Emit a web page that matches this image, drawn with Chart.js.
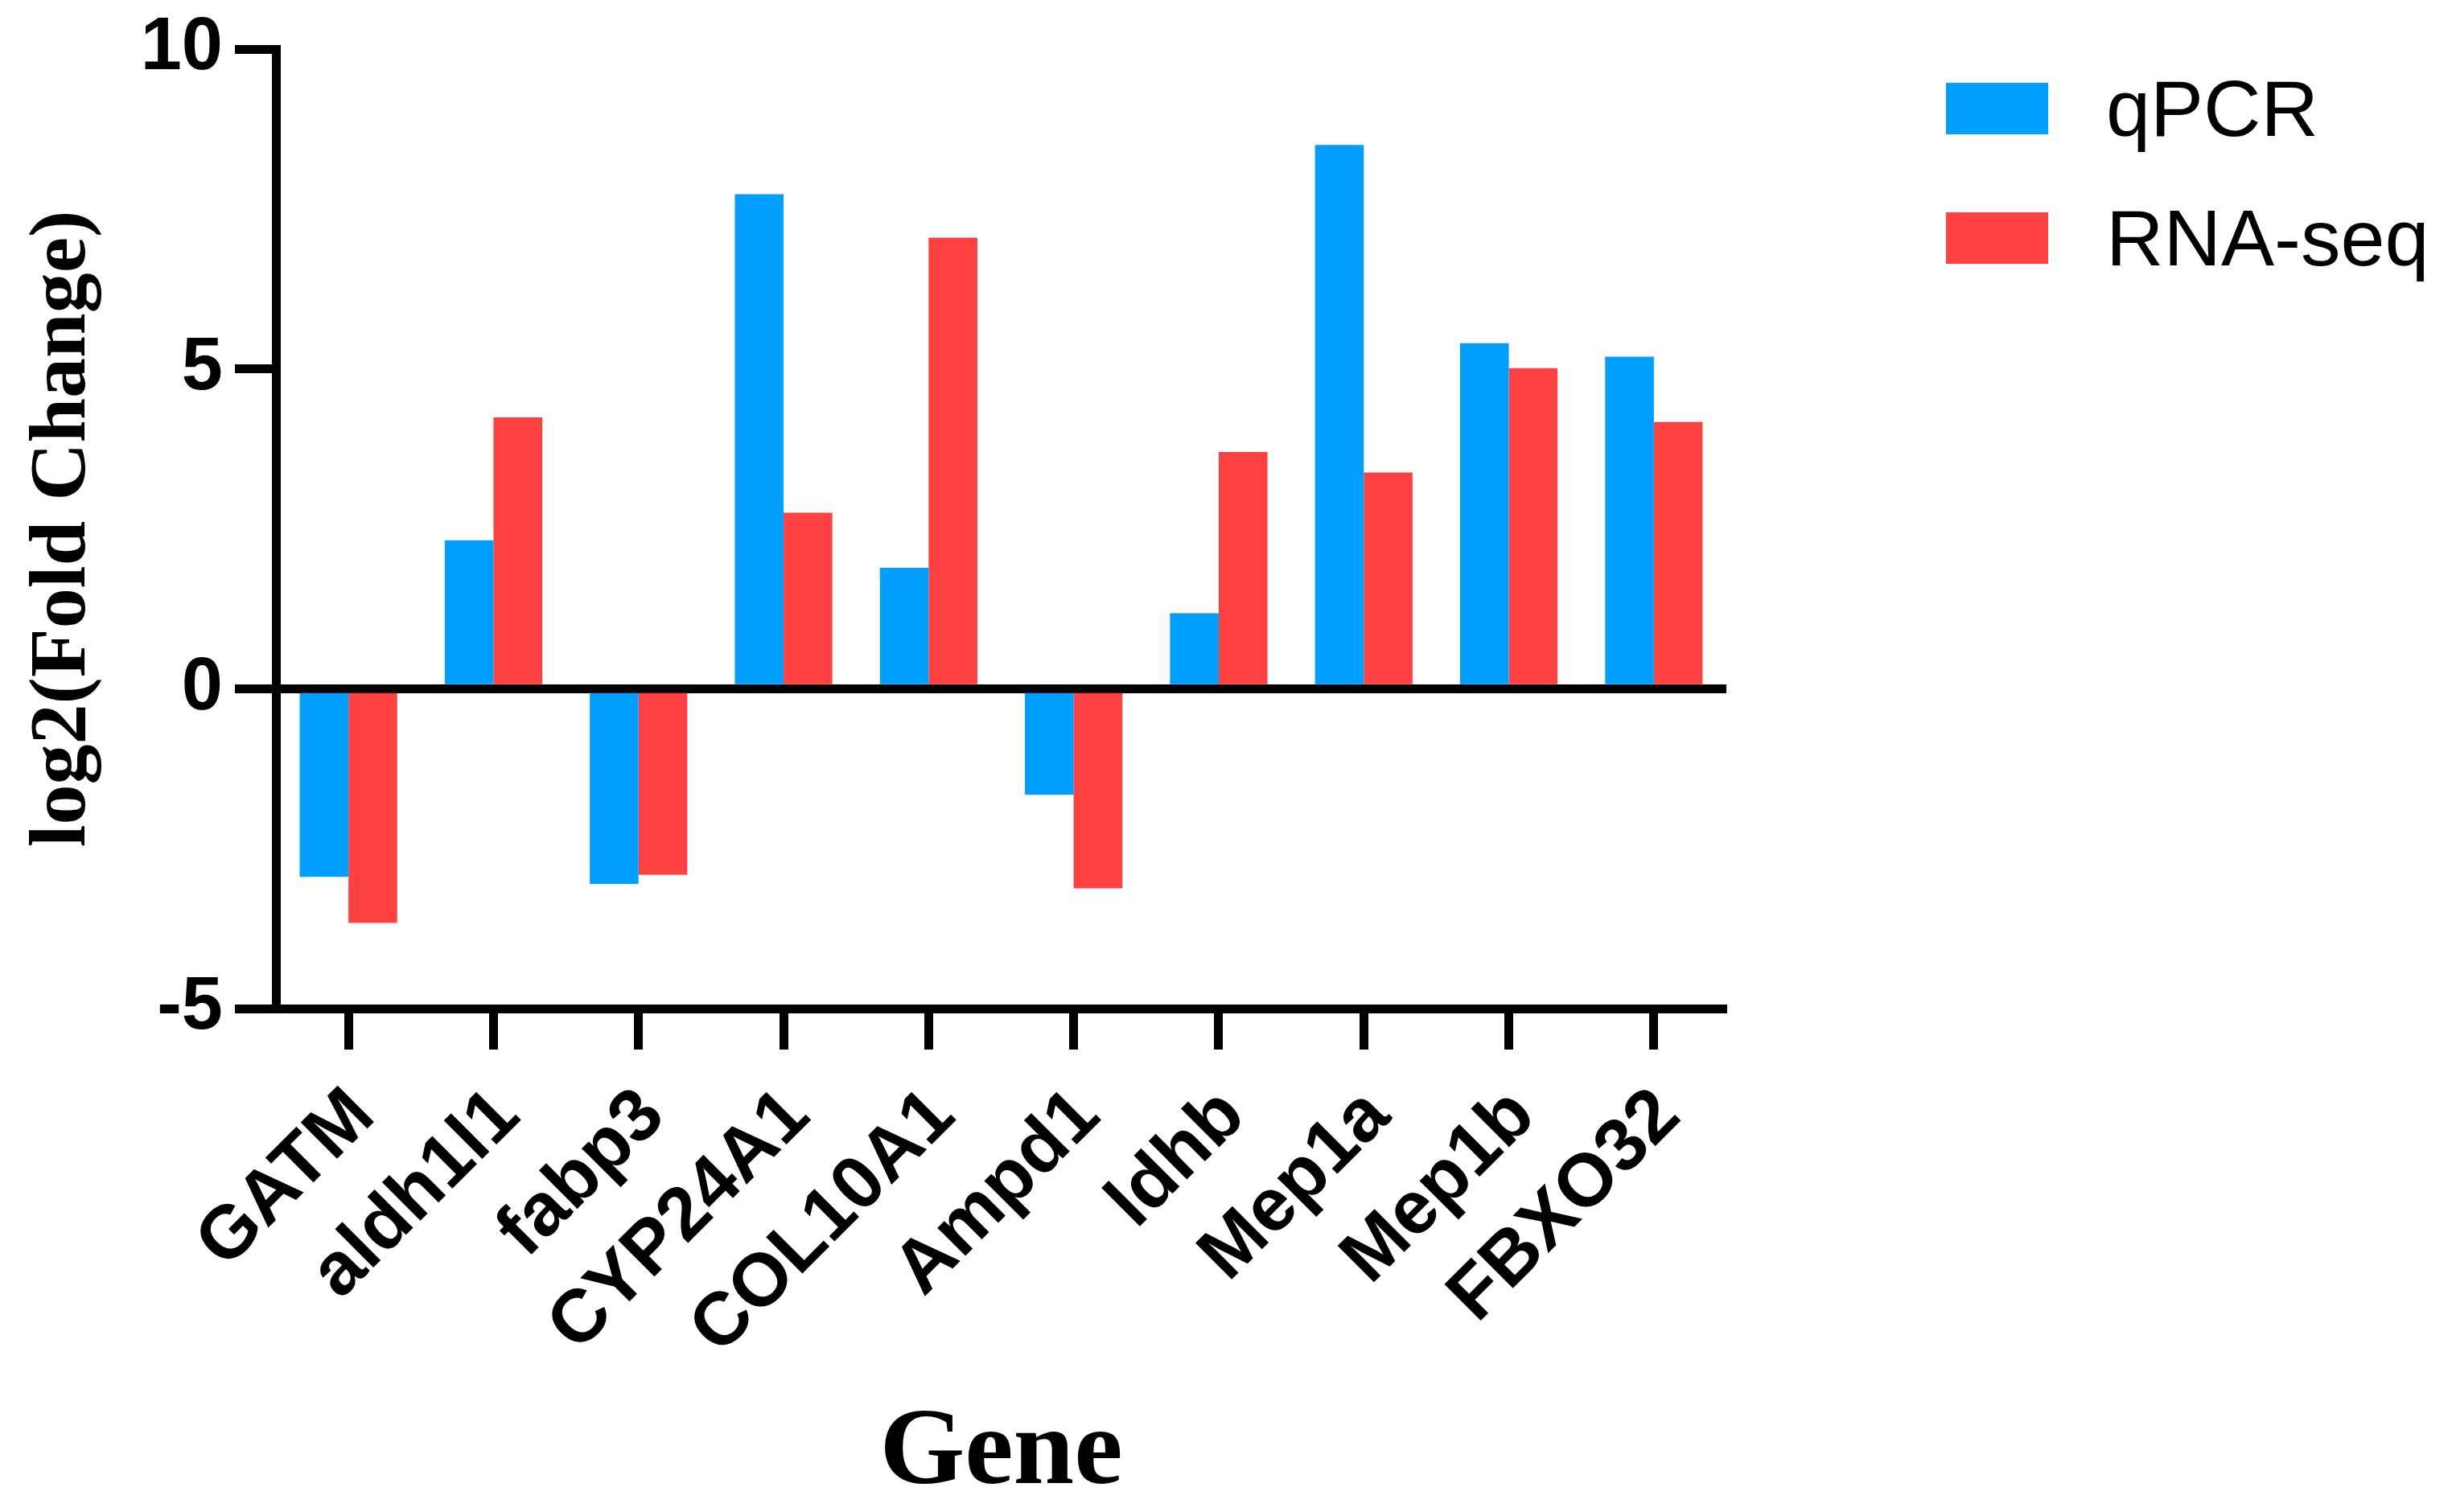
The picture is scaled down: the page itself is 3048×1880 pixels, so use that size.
<!DOCTYPE html>
<html>
<head>
<meta charset="utf-8">
<script src="https://cdn.jsdelivr.net/npm/chart.js@4.4.1/dist/chart.umd.min.js"></script>
<style>
  html, body { margin: 0; padding: 0; background: #fff; }
  #wrap { position: relative; width: 3048px; height: 1880px; }
  #legend { position: absolute; left: 2419px; top: 103px; }
  #legend .item { display: flex; align-items: center; height: 64px; margin-bottom: 97px; }
  #legend i { display: block; width: 127px; height: 64px; }
  #legend span { font-family: 'Liberation Sans', Arial, sans-serif; font-size: 99px; line-height: 64px; margin-left: 72px; white-space: nowrap; color: #000; }
</style>
</head>
<body>
<div id="wrap">
  <canvas id="chart" width="3048" height="1880"></canvas>
  <div id="legend"></div>
</div>
<script>
const genes = ['GATM', 'aldh1l1', 'fabp3', 'CYP24A1', 'COL10A1', 'Ampd1', 'ldhb', 'Mep1a', 'Mep1b', 'FBXO32'];
const qpcr = [-2.94, 2.32, -3.05, 7.73, 1.89, -1.66, 1.18, 8.5, 5.4, 5.19];
const rnaSeq = [-3.66, 4.24, -2.91, 2.75, 7.05, -3.12, 3.7, 3.38, 5.01, 4.17];
const yTicks = [-5, 0, 5, 10];

const BLUE = '#009EFF';
const RED = '#FF4040';
const AXIS_W = 11;
const TICK_LEN = 51;

const sansBold = (size, lh) => ({ family: "'Liberation Sans', Arial, sans-serif", size, weight: 'bold', lineHeight: lh });
const serifBold = (size) => ({ family: "'Liberation Serif', 'Times New Roman', serif", size, weight: 'bold', lineHeight: 1 });

const chart = new Chart(document.getElementById('chart'), {
  type: 'bar',
  data: {
    labels: genes,
    datasets: [
      { label: 'qPCR', data: qpcr, backgroundColor: BLUE, borderWidth: 0 },
      { label: 'RNA-seq', data: rnaSeq, backgroundColor: RED, borderWidth: 0 },
    ]
  },
  options: {
    responsive: false,
    devicePixelRatio: 1,
    animation: false,
    events: [],
    layout: { padding: { left: 0, top: 55, right: 902, bottom: 0 } },
    datasets: { bar: { categoryPercentage: 0.672, barPercentage: 1 } },
    plugins: {
      legend: { display: false },
      tooltip: { enabled: false },
    },
    scales: {
      x: {
        offset: true,
        afterFit: (s) => { s.height = 1880 - 1254; },
        border: { display: true, color: '#000', width: AXIS_W },
        grid: { offset: false, drawOnChartArea: false, color: '#000', tickColor: '#000', tickWidth: AXIS_W, tickLength: TICK_LEN },
        ticks: {
          autoSkip: false, minRotation: 45, maxRotation: 45, padding: 28, labelOffset: 18,
          color: '#000', font: sansBold(93, 1.2)
        },
        title: {
          display: true, text: 'Gene', color: '#000',
          font: serifBold(136), padding: { top: 0, bottom: 3 }
        }
      },
      y: {
        min: -5, max: 10,
        z: 1,
        afterFit: (s) => { s.width = 343; },
        afterBuildTicks: (s) => { s.ticks = yTicks.map(v => ({ value: v })); },
        border: { display: true, color: '#000', width: AXIS_W },
        grid: {
          color: (ctx) => ctx.tick && ctx.tick.value === 0 ? '#000' : 'rgba(0,0,0,0)',
          lineWidth: AXIS_W,
          tickColor: '#000', tickWidth: AXIS_W, tickLength: TICK_LEN
        },
        ticks: { padding: 15, color: '#000', font: sansBold(92, 1) },
        title: {
          display: true, text: 'log2(Fold Change)', color: '#000',
          font: serifBold(100), padding: { top: 29, bottom: 0 }
        }
      }
    }
  }
});

// legend drawn as html beside the plot
document.getElementById('legend').innerHTML = chart.data.datasets.map(ds => `
  <div class="item"><i style="background:${ds.backgroundColor}"></i><span>${ds.label}</span></div>
`).join('');
</script>
</body>
</html>
